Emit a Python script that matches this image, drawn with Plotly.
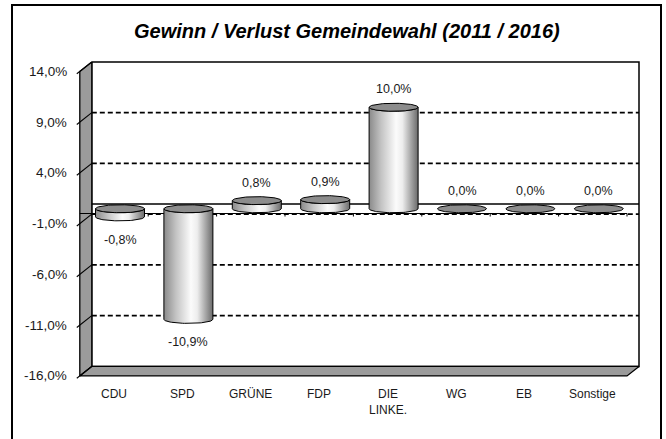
import numpy as np
import plotly.graph_objects as go

# ---------------- data ----------------
categories = ["CDU", "SPD", "GRÜNE", "FDP", "DIE<br>LINKE.", "WG", "EB", "Sonstige"]
values = [-0.8, -10.9, 0.8, 0.9, 10.0, 0.0, 0.0, 0.0]
value_labels = ["-0,8%", "-10,9%", "0,8%", "0,9%", "10,0%", "0,0%", "0,0%", "0,0%"]
y_tick_values = [14, 9, 4, -1, -6, -11, -16]
y_tick_labels = ["14,0%", "9,0%", "4,0%", "-1,0%", "-6,0%", "-11,0%", "-16,0%"]
title_text = "Gewinn / Verlust Gemeindewahl (2011 / 2016)"

# ---------------- layout / geometry constants (pixels) ----------------
W, H = 666, 439
PX_PER_CAT = 68.4
CAT0_PX = 120.0
PX_PER_PCT = 10.15
ZERO_PX = 208.75
HALF_DEPTH_X_PX = 6.0
HALF_DEPTH_Y_PX = 4.75

x_range = [-CAT0_PX / PX_PER_CAT, (W - CAT0_PX) / PX_PER_CAT]
y_range = [-(H - ZERO_PX) / PX_PER_PCT, ZERO_PX / PX_PER_PCT]
px_x = 1.0 / PX_PER_CAT
px_y = 1.0 / PX_PER_PCT
dx = HALF_DEPTH_X_PX * px_x
dy = HALF_DEPTH_Y_PX * px_y

n = len(categories)
y_top, y_bot = max(y_tick_values), min(y_tick_values)
xl, xr = -0.5, n - 0.5

FONT = "Liberation Sans, Arial, sans-serif"
WALL_GRAY = "#9b9b9b"

fig = go.Figure()


def poly(xs, ys, fill=None, line_w=1.2, gradient=None):
    xs = list(xs) + [xs[0]]
    ys = list(ys) + [ys[0]]
    kw = dict(x=xs, y=ys, mode="lines", fill="toself",
              line=dict(color="black", width=line_w),
              hoverinfo="skip", showlegend=False)
    if gradient is not None:
        kw["fillgradient"] = gradient
    else:
        kw["fillcolor"] = fill
    fig.add_trace(go.Scatter(**kw))


def seg(xs, ys, width=1.2, dash="solid"):
    fig.add_trace(go.Scatter(x=xs, y=ys, mode="lines",
                             line=dict(color="black", width=width, dash=dash),
                             hoverinfo="skip", showlegend=False))


# back wall
poly([xl + dx, xr + dx, xr + dx, xl + dx],
     [y_top + dy, y_top + dy, y_bot + dy, y_bot + dy], fill="white", line_w=1.5)
# side wall
poly([xl - dx, xl + dx, xl + dx, xl - dx],
     [y_top - dy, y_top + dy, y_bot + dy, y_bot - dy], fill=WALL_GRAY, line_w=1.3)
# floor
poly([xl + dx, xr + dx, xr - dx, xl - dx],
     [y_bot + dy, y_bot + dy, y_bot - dy, y_bot - dy], fill=WALL_GRAY, line_w=1.3)

# gridlines (dashed, back wall) + depth slants / tick marks on side wall
ext = 0.25
for t in y_tick_values:
    if y_bot < t < y_top:
        seg([xl + dx, xr + dx], [t + dy, t + dy], width=1.7, dash="5px,3px")
    seg([xl - dx - ext * 2 * dx, xl + dx], [t - dy - ext * 2 * dy, t + dy], width=1.1)

# zero plane (category axis)
seg([xl + dx, xr + dx], [dy, dy], width=1.6)
seg([xl - dx, xr - dx], [-dy, -dy], width=1.1)
for k in range(1, n + 1):
    seg([k - 0.5 - dx, k - 0.5 - dx], [-dy, -dy - 3 * px_y], width=1.0)

# cylinders
rx = 24.5 * px_x
ry = 4.0 * px_y
t_front = np.linspace(np.pi, 2 * np.pi, 48)
t_full = np.linspace(0, 2 * np.pi, 96)
side_grad = dict(type="horizontal",
                 colorscale=[[0.0, "#8a8a8a"], [0.25, "#c4c4c4"], [0.55, "#fbfbfb"],
                             [0.68, "#ededed"], [1.0, "#6a6a6a"]])
for i, v in enumerate(values):
    top = max(v, 0.0)
    bot = min(v, 0.0)
    if top > bot:
        xs = list(i + rx * np.cos(t_front)) + list(i + rx * np.cos(t_front[::-1]))
        ys = list(bot + ry * np.sin(t_front)) + list(top + ry * np.sin(t_front[::-1]))
        poly(xs, ys, gradient=side_grad, line_w=1.0)
    poly(list(i + rx * np.cos(t_full)), list(top + ry * np.sin(t_full)),
         fill="#8c8c8c", line_w=1.0)

annotations = []
# data labels
for i, (v, lab) in enumerate(zip(values, value_labels)):
    annotations.append(dict(x=i, y=v, text=lab, showarrow=False,
                            xanchor="center", yanchor="middle",
                            yshift=18 if v >= 0 else -23,
                            font=dict(family=FONT, size=12.5, color="#1a1a1a")))
# y tick labels
for t, lab in zip(y_tick_values, y_tick_labels):
    annotations.append(dict(x=xl - dx - 11 * px_x, y=t - dy, text=lab, showarrow=False,
                            xanchor="right", yanchor="middle",
                            font=dict(family=FONT, size=13.5, color="#1a1a1a")))
# category labels
for i, c in enumerate(categories):
    annotations.append(dict(x=i - dx, y=y_bot - dy, text=c, showarrow=False,
                            xanchor="center", yanchor="top", yshift=-9,
                            font=dict(family=FONT, size=12, color="#1a1a1a")))
# title
annotations.append(dict(xref="paper", yref="paper", x=347 / W, y=1 - 31 / H,
                        text=title_text, showarrow=False,
                        xanchor="center", yanchor="middle",
                        font=dict(family=FONT, size=20, color="black",
                                  weight="bold", style="italic")))

fig.update_layout(
    width=W, height=H,
    margin=dict(l=0, r=0, t=0, b=0, pad=0),
    paper_bgcolor="white", plot_bgcolor="white",
    xaxis=dict(range=x_range, visible=False, fixedrange=True),
    yaxis=dict(range=y_range, visible=False, fixedrange=True),
    annotations=annotations,
    shapes=[dict(type="rect", xref="paper", yref="paper",
                 x0=12 / W, x1=661 / W, y0=-0.05, y1=1 - 5 / H,
                 line=dict(color="black", width=2), fillcolor="rgba(0,0,0,0)",
                 layer="above")],
    showlegend=False,
)

fig.write_html("out.html",
               config={"displayModeBar": False, "staticPlot": True},
               post_script="document.body.style.margin='0';document.body.style.overflow='hidden';")
